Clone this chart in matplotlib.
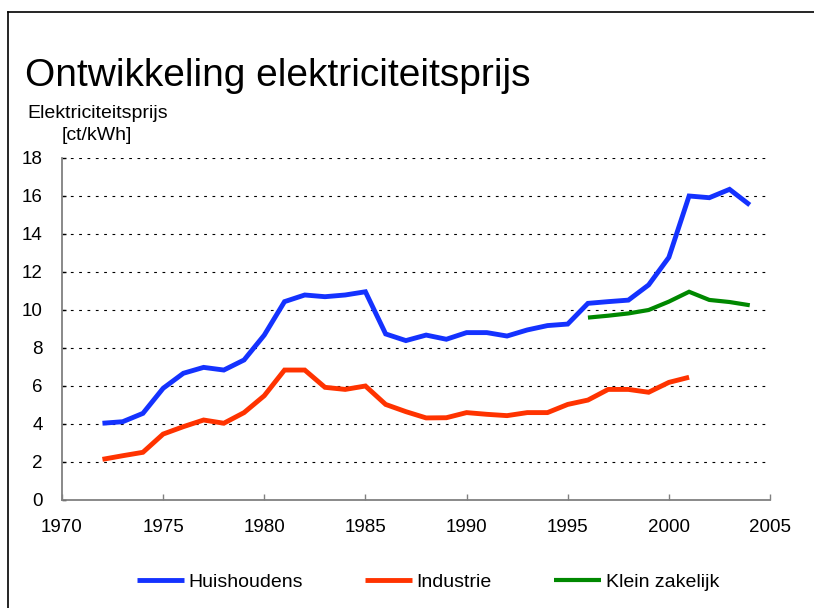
import matplotlib
matplotlib.use('Agg')
import matplotlib.pyplot as plt
from matplotlib.lines import Line2D

plt.rcParams['font.family'] = ['Liberation Sans', 'DejaVu Sans']

# gegevens
jaren_h = list(range(1972, 2005))
huishoudens = [4.04, 4.12, 4.56, 5.88, 6.67, 6.98, 6.84, 7.37, 8.68, 10.44,
               10.79, 10.70, 10.79, 10.96, 8.74, 8.39, 8.68, 8.46, 8.81, 8.81,
               8.63, 8.95, 9.18, 9.26, 10.35, 10.44, 10.52, 11.32, 12.77, 16.0,
               15.91, 16.35, 15.53]

jaren_i = list(range(1972, 2002))
industrie = [2.14, 2.33, 2.51, 3.47, 3.86, 4.21, 4.04, 4.60, 5.49, 6.84,
             6.84, 5.93, 5.82, 6.00, 5.03, 4.65, 4.32, 4.33, 4.60, 4.51,
             4.44, 4.60, 4.60, 5.03, 5.26, 5.82, 5.82, 5.67, 6.19, 6.46]

jaren_k = list(range(1996, 2005))
klein_zakelijk = [9.60, 9.70, 9.82, 10.0, 10.44, 10.96, 10.53, 10.42, 10.25]

x_ticks = [1970, 1975, 1980, 1985, 1990, 1995, 2000, 2005]
y_ticks = [0, 2, 4, 6, 8, 10, 12, 14, 16, 18]

W, H = 814, 608
fig = plt.figure(figsize=(W / 100, H / 100), dpi=100)
ax = fig.add_axes([62 / W, 1 - 500 / H, (770 - 62) / W, (500 - 158) / H])

# rand om de figuur (links en boven)
fig.add_artist(Line2D([8 / W, 8 / W], [0, 1 - 12 / H], color='black', lw=1.2,
                      transform=fig.transFigure))
fig.add_artist(Line2D([8 / W, 1], [1 - 12 / H, 1 - 12 / H], color='black', lw=1.2,
                      transform=fig.transFigure))

for y in y_ticks[1:]:
    ax.axhline(y, color='black', lw=0.8, dashes=(2.5, 5), zorder=1)

ax.plot(jaren_h, huishoudens, color='#1432ff', lw=3.5, label='Huishoudens',
        solid_joinstyle='miter', solid_capstyle='butt', zorder=3)
ax.plot(jaren_i, industrie, color='#ff3300', lw=3.5, label='Industrie',
        solid_joinstyle='miter', solid_capstyle='butt', zorder=3)
ax.plot(jaren_k, klein_zakelijk, color='#008800', lw=3.0, label='Klein zakelijk',
        solid_joinstyle='miter', solid_capstyle='butt', zorder=3)

ax.set_xlim(1970, 2005)
ax.set_ylim(0, 18)
ax.set_xticks(x_ticks)
ax.set_yticks(y_ticks)
ax.tick_params(axis='x', direction='in', length=4, width=1, color='#808080',
               labelsize=13.5, pad=14)
ax.tick_params(axis='y', direction='in', length=3, width=1, color='black',
               labelsize=13.5, pad=14)
for s in ['top', 'right']:
    ax.spines[s].set_visible(False)
for s in ['left', 'bottom']:
    ax.spines[s].set_color('#808080')
    ax.spines[s].set_linewidth(1.3)

fig.text(25 / W, 1 - 86 / H, 'Ontwikkeling elektriciteitsprijs', fontsize=28,
         ha='left', va='baseline')
fig.text(27 / W, 1 - 118 / H, 'Elektriciteitsprijs', fontsize=14,
         ha='left', va='baseline')
fig.text(62 / W, 1 - 140 / H, '[ct/kWh]', fontsize=14, ha='left', va='baseline')

fig.legend(loc='center', bbox_to_anchor=(428 / W, 1 - 582 / H), ncol=3,
           frameon=False, fontsize=14, handlelength=2.4, handletextpad=0.25,
           columnspacing=3.2)

fig.savefig('out.png', dpi=100)
